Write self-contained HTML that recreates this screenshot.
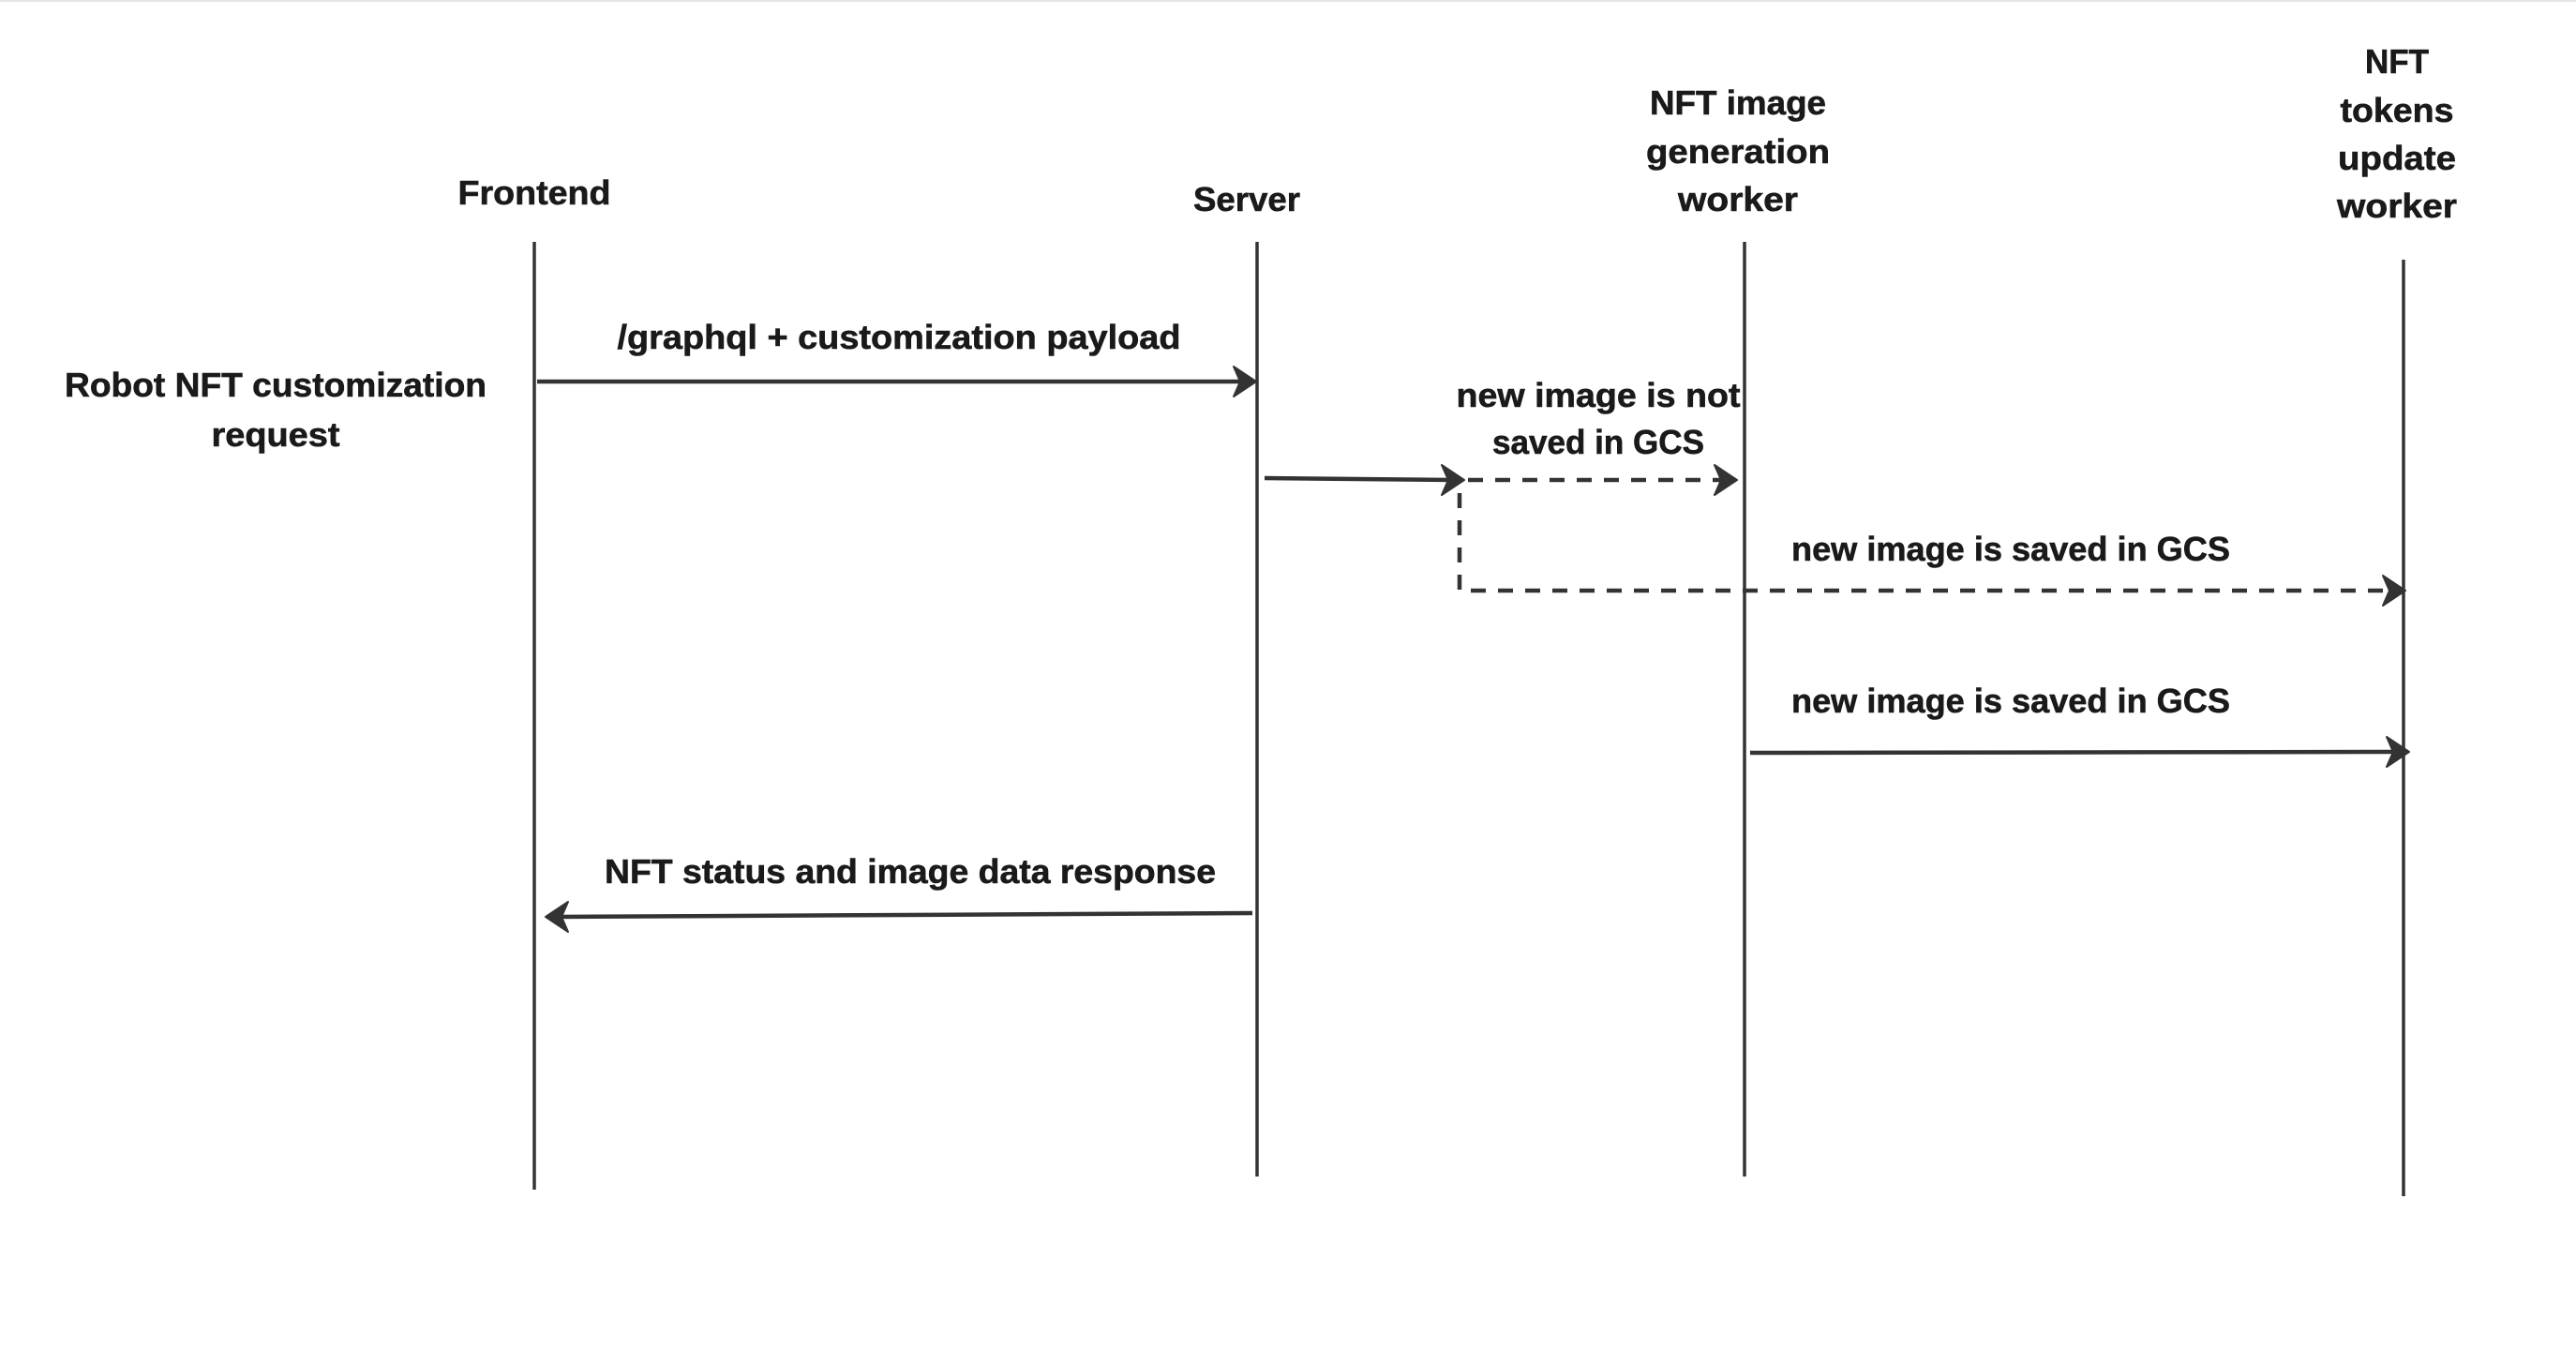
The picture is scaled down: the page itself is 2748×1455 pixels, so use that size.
<!DOCTYPE html>
<html><head><meta charset="utf-8"><style>html,body{margin:0;padding:0;background:#fff}svg{display:block}</style></head>
<body>
<svg width="2748" height="1455" viewBox="0 0 2748 1455" xmlns="http://www.w3.org/2000/svg">
<rect width="2748" height="1455" fill="#fff"/>
<line x1="0" y1="1" x2="2748" y2="1" stroke="#e6e6e6" stroke-width="2"/>
<g stroke="#333" stroke-width="3.5" fill="none">
<line x1="570" y1="258" x2="570" y2="1269"/>
<line x1="1341" y1="258" x2="1341" y2="1255"/>
<line x1="1861" y1="258" x2="1861" y2="1255"/>
<line x1="2564" y1="277" x2="2564" y2="1276"/>
</g>
<g stroke="#333" stroke-width="4.5" fill="none">
<line x1="573" y1="407" x2="1328" y2="407"/>
<line x1="1349" y1="510" x2="1550" y2="512"/>
<line x1="1566" y1="512" x2="1840" y2="512" stroke-dasharray="16 13"/>
<polyline points="1557,526 1557,630 2552,630" stroke-dasharray="16 13"/>
<line x1="1867" y1="803" x2="2558" y2="802"/>
<line x1="1336" y1="974" x2="594" y2="978"/>
</g>
<g fill="#333" stroke="#333" stroke-width="2" stroke-linejoin="round">
<path d="M1340,407 L1316,391 L1323,407 L1316,423 Z"/>
<path d="M1562,512 L1538,496 L1545,512 L1538,528 Z"/>
<path d="M1853,512 L1829,496 L1836,512 L1829,528 Z"/>
<path d="M2566,630 L2542,614 L2549,630 L2542,646 Z"/>
<path d="M2570,802 L2546,786 L2553,802 L2546,818 Z"/>
<path d="M582,978 L606,962 L599,978 L606,994 Z"/>
</g>
<g font-family="Liberation Sans, sans-serif" font-weight="bold" font-size="36" fill="#1a1a1a" text-anchor="middle" stroke="#1a1a1a" stroke-width="0.6">
<text x="570" y="218" textLength="163" lengthAdjust="spacingAndGlyphs">Frontend</text>
<text x="1330" y="225" textLength="114" lengthAdjust="spacingAndGlyphs">Server</text>
<text x="1854" y="122" textLength="188" lengthAdjust="spacingAndGlyphs">NFT image</text>
<text x="1854" y="174" textLength="196" lengthAdjust="spacingAndGlyphs">generation</text>
<text x="1854" y="225" textLength="128" lengthAdjust="spacingAndGlyphs">worker</text>
<text x="2557" y="78" textLength="68" lengthAdjust="spacingAndGlyphs">NFT</text>
<text x="2557" y="130" textLength="121" lengthAdjust="spacingAndGlyphs">tokens</text>
<text x="2557" y="181" textLength="126" lengthAdjust="spacingAndGlyphs">update</text>
<text x="2557" y="232" textLength="128" lengthAdjust="spacingAndGlyphs">worker</text>
<text x="294" y="423" textLength="450" lengthAdjust="spacingAndGlyphs">Robot NFT customization</text>
<text x="294" y="476" textLength="137" lengthAdjust="spacingAndGlyphs">request</text>
<text x="959" y="372" textLength="601" lengthAdjust="spacingAndGlyphs">/graphql + customization payload</text>
<text x="1705" y="434" textLength="303" lengthAdjust="spacingAndGlyphs">new image is not</text>
<text x="1705" y="484" textLength="226" lengthAdjust="spacingAndGlyphs">saved in GCS</text>
<text x="2145" y="598" textLength="468" lengthAdjust="spacingAndGlyphs">new image is saved in GCS</text>
<text x="2145" y="760" textLength="468" lengthAdjust="spacingAndGlyphs">new image is saved in GCS</text>
<text x="971" y="942" textLength="652" lengthAdjust="spacingAndGlyphs">NFT status and image data response</text>
</g>
</svg>
</body></html>
